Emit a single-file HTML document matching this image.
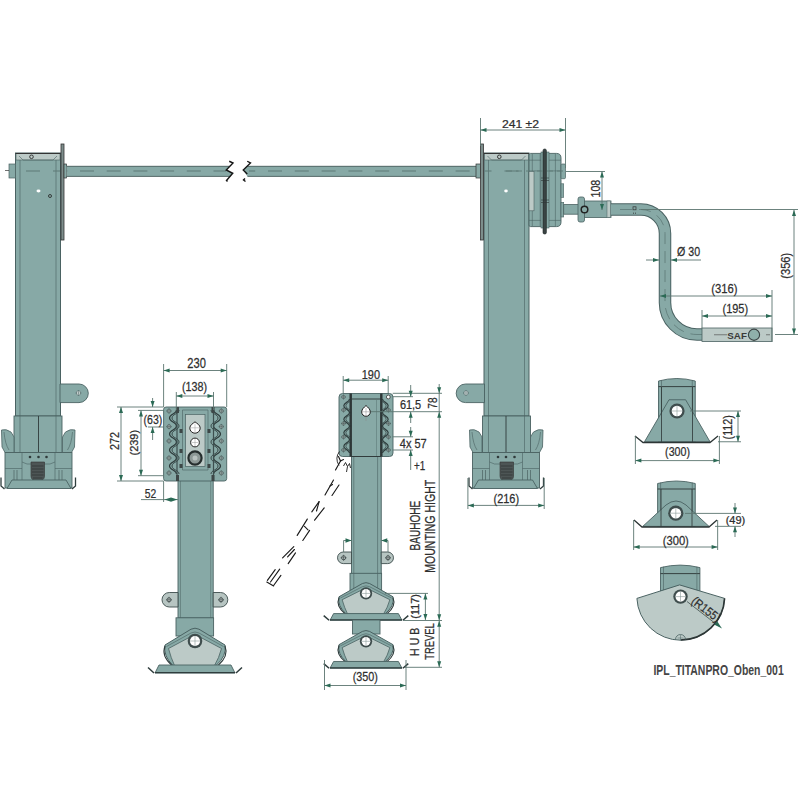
<!DOCTYPE html>
<html><head><meta charset="utf-8"><style>
html,body{margin:0;padding:0;background:#fff;width:800px;height:800px;overflow:hidden}
svg{display:block;font-family:"Liberation Sans",sans-serif}
</style></head><body>
<svg width="800" height="800" viewBox="0 0 800 800">
<rect width="800" height="800" fill="#fff"/>
<g><rect x="15.5" y="153" width="45" height="263" fill="#87a9a6" stroke="#4a6262" stroke-width="1"/><path d="M20,160V416M56,160V416" stroke="#4a6262" stroke-width="0.6"/><path d="M16,153.5H60V160H16Z" fill="#bccac7" stroke="#4a6262" stroke-width="0.6"/><path d="M15.5,153.5H60.5" stroke="#333" stroke-width="1"/><path d="M19,156 L23,160 H53 L57,156" fill="none" stroke="#4a6262" stroke-width="0.6"/><path d="M26,171H40M53,171H60" stroke="#5e7a77" stroke-width="1.1"/><path d="M60,384H79A9.3,9.3 0 0 1 79,402.6H60Z" fill="#87a9a6" stroke="#4a6262" stroke-width="0.9"/><circle cx="78.5" cy="393" r="2.2" fill="#e8eeed" stroke="#4a6262" stroke-width="0.6"/><path d="M75.5,393h6M78.5,390v6" stroke="#4a6262" stroke-width="0.5"/><rect x="14" y="416" width="48" height="36.5" fill="#87a9a6" stroke="#4a6262" stroke-width="0.9"/><path d="M20,416V452M56,416V452" stroke="#4a6262" stroke-width="0.6"/><path d="M38.5,416V452" stroke="#2f3a3a" stroke-width="0.9"/><path d="M14,437 L11,432 Q6,428.5 1.5,430 L2,447 L5,452.5 H14Z" fill="#87a9a6" stroke="#4a6262" stroke-width="0.8"/><path d="M62.5,437 L65.5,432 Q70.5,428.5 75,430 L74.5,447 L71.5,452.5 H62.5Z" fill="#87a9a6" stroke="#4a6262" stroke-width="0.8"/><path d="M4,432 Q5,444 9,450 M72.5,432 Q71.5,444 67.5,450" fill="none" stroke="#4a6262" stroke-width="0.6"/><rect x="5" y="452.5" width="67" height="35.5" fill="#87a9a6" stroke="#4a6262" stroke-width="0.9"/><path d="M5,468.5H22M55,468.5H72M22,452.5V480M55,452.5V480" stroke="#4a6262" stroke-width="0.6"/><path d="M22,462 L27,464 H50 L55,462" fill="none" stroke="#4a6262" stroke-width="0.6"/><circle cx="30" cy="457" r="1.3" fill="#2f3a3a"/><circle cx="38.5" cy="457" r="1.3" fill="#2f3a3a"/><circle cx="46.5" cy="457" r="1.3" fill="#2f3a3a"/><path d="M31,462H44.5V476Q44.5,481 37.75,481Q31,481 31,476Z" fill="#4d5555" stroke="#333" stroke-width="0.6"/><path d="M32,466H43.5M32,469H43.5M32,472H43.5M32,475H43.5M33,478H42.5" stroke="#2c3232" stroke-width="0.7"/><path d="M14,470V480M17,470V480M59,470V480M62,470V480" stroke="#4a6262" stroke-width="0.7"/><path d="M7,488.5H71L66,480H12Z" fill="#87a9a6" stroke="#4a6262" stroke-width="0.9"/><path d="M1,477.5V486L4.5,489M75.5,477.5V486L72,489" fill="none" stroke="#2f3d3d" stroke-width="1.3"/></g>
<g transform="translate(544.5,0) scale(-1,1)"><rect x="15.5" y="153" width="45" height="263" fill="#87a9a6" stroke="#4a6262" stroke-width="1"/><path d="M20,160V416M56,160V416" stroke="#4a6262" stroke-width="0.6"/><path d="M16,153.5H60V160H16Z" fill="#bccac7" stroke="#4a6262" stroke-width="0.6"/><path d="M15.5,153.5H60.5" stroke="#333" stroke-width="1"/><path d="M19,156 L23,160 H53 L57,156" fill="none" stroke="#4a6262" stroke-width="0.6"/><path d="M26,171H40M53,171H60" stroke="#5e7a77" stroke-width="1.1"/><path d="M60,384H79A9.3,9.3 0 0 1 79,402.6H60Z" fill="#87a9a6" stroke="#4a6262" stroke-width="0.9"/><circle cx="78.5" cy="393" r="2.2" fill="#e8eeed" stroke="#4a6262" stroke-width="0.6"/><path d="M75.5,393h6M78.5,390v6" stroke="#4a6262" stroke-width="0.5"/><rect x="14" y="416" width="48" height="36.5" fill="#87a9a6" stroke="#4a6262" stroke-width="0.9"/><path d="M20,416V452M56,416V452" stroke="#4a6262" stroke-width="0.6"/><path d="M38.5,416V452" stroke="#2f3a3a" stroke-width="0.9"/><path d="M14,437 L11,432 Q6,428.5 1.5,430 L2,447 L5,452.5 H14Z" fill="#87a9a6" stroke="#4a6262" stroke-width="0.8"/><path d="M62.5,437 L65.5,432 Q70.5,428.5 75,430 L74.5,447 L71.5,452.5 H62.5Z" fill="#87a9a6" stroke="#4a6262" stroke-width="0.8"/><path d="M4,432 Q5,444 9,450 M72.5,432 Q71.5,444 67.5,450" fill="none" stroke="#4a6262" stroke-width="0.6"/><rect x="5" y="452.5" width="67" height="35.5" fill="#87a9a6" stroke="#4a6262" stroke-width="0.9"/><path d="M5,468.5H22M55,468.5H72M22,452.5V480M55,452.5V480" stroke="#4a6262" stroke-width="0.6"/><path d="M22,462 L27,464 H50 L55,462" fill="none" stroke="#4a6262" stroke-width="0.6"/><circle cx="30" cy="457" r="1.3" fill="#2f3a3a"/><circle cx="38.5" cy="457" r="1.3" fill="#2f3a3a"/><circle cx="46.5" cy="457" r="1.3" fill="#2f3a3a"/><path d="M31,462H44.5V476Q44.5,481 37.75,481Q31,481 31,476Z" fill="#4d5555" stroke="#333" stroke-width="0.6"/><path d="M32,466H43.5M32,469H43.5M32,472H43.5M32,475H43.5M33,478H42.5" stroke="#2c3232" stroke-width="0.7"/><path d="M14,470V480M17,470V480M59,470V480M62,470V480" stroke="#4a6262" stroke-width="0.7"/><path d="M7,488.5H71L66,480H12Z" fill="#87a9a6" stroke="#4a6262" stroke-width="0.9"/><path d="M1,477.5V486L4.5,489M75.5,477.5V486L72,489" fill="none" stroke="#2f3d3d" stroke-width="1.3"/></g>
<circle cx="31.5" cy="156.8" r="1.8" fill="#bccac7" stroke="#2a2a2a" stroke-width="0.9"/>
<circle cx="499.3" cy="156.8" r="1.8" fill="#bccac7" stroke="#2a2a2a" stroke-width="0.9"/>
<rect x="61" y="144" width="3" height="96" fill="#7d8e8c" stroke="#333" stroke-width="0.8"/>
<rect x="64" y="164" width="2.5" height="14" fill="#87a9a6" stroke="#333" stroke-width="0.7"/>
<rect x="9" y="164" width="6.5" height="14" fill="#87a9a6" stroke="#4a6262" stroke-width="0.7"/>
<path d="M5,170.5H9" stroke="#333" stroke-width="0.7"/>
<ellipse cx="38.5" cy="191" rx="2" ry="1.4" fill="#fff"/>
<circle cx="50" cy="196" r="1.5" fill="none" stroke="#222" stroke-width="0.8"/>
<path d="M66.5,166H230.1L226.25,170L232.75,173.25L229.95,176.5H66.5Z" fill="#87a9a6"/>
<path d="M476,166H247.4L243.25,170L247.5,176.5H476Z" fill="#87a9a6"/>
<path d="M66.5,166.3H230M66.5,176.4H230M247.4,166.3H476M247.5,176.4H476" stroke="#4d5f5f" stroke-width="0.9"/>
<path d="M66.5,171H226" stroke="#5e7a77" stroke-width="1.1" stroke-dasharray="14,12.7" stroke-dashoffset="-13.5"/>
<path d="M249,171H476" stroke="#5e7a77" stroke-width="1.1" stroke-dasharray="14,12.8" stroke-dashoffset="-19"/>
<path d="M229.25,161.25L233,163L226.25,170L232.75,173.25L226.5,180.5L227.5,181.5" fill="none" stroke="#151515" stroke-width="1.4"/>
<path d="M247.25,161.25L250.5,163L243.25,170L247.25,174M245,178.5L243.5,180L245.5,181.5" fill="none" stroke="#151515" stroke-width="1.4"/>
<rect x="480.5" y="144" width="3" height="96" fill="#7d8e8c" stroke="#333" stroke-width="0.8"/>
<rect x="476" y="164" width="4.5" height="14" fill="#87a9a6" stroke="#333" stroke-width="0.7"/>
<ellipse cx="506" cy="191" rx="1.8" ry="1.4" fill="#fff"/>
<path d="M530.5,153.4H556.5Q561,153.4 561,158V222Q561,226.6 556.5,226.6H530.5Q529,226.6 529,225V155Q529,153.4 530.5,153.4Z" fill="#87a9a6" stroke="#4a6262" stroke-width="0.9"/>
<path d="M529,160.2H561M529,170.9H561M529,220.4H561M532.3,154V226M540.2,154V226M548,154V226M555.4,154V226" stroke="#4a6262" stroke-width="0.55"/>
<rect x="529" y="171.4" width="5" height="39.4" fill="#bccac7" stroke="#4a6262" stroke-width="0.6"/>
<rect x="541" y="152" width="8" height="76" fill="#87a9a6" stroke="#4a6262" stroke-width="0.6"/>
<rect x="543" y="149" width="3.4" height="85" rx="1.5" fill="#3a4444" stroke="#1f2626" stroke-width="0.6"/>
<path d="M541,178H549M541,180.5H549M541,200H549M541,202.5H549" stroke="#2d3636" stroke-width="0.6"/>
<rect x="561" y="164" width="4.5" height="14.7" rx="1.2" fill="#87a9a6" stroke="#4a6262" stroke-width="0.7"/>
<rect x="561" y="183.8" width="2.7" height="13.5" fill="#87a9a6" stroke="#4a6262" stroke-width="0.6"/>
<rect x="561" y="202.4" width="2.7" height="14.6" fill="#87a9a6" stroke="#4a6262" stroke-width="0.6"/>
<path d="M506,171H529M537,171H566" stroke="#5e7a77" stroke-width="0.9" stroke-dasharray="6,4"/>
<rect x="563.7" y="204.6" width="15" height="9.6" fill="#87a9a6" stroke="#4a6262" stroke-width="0.8"/>
<rect x="584" y="201" width="27" height="16.5" fill="#87a9a6" stroke="#4a6262" stroke-width="0.8"/>
<rect x="607" y="201" width="3.5" height="16.5" fill="#bccac7" stroke="#4a6262" stroke-width="0.5"/>
<rect x="578" y="197" width="6.5" height="25" rx="2" fill="#87a9a6" stroke="#4a6262" stroke-width="0.8"/>
<circle cx="584.5" cy="209.5" r="3.3" fill="#87a9a6" stroke="#222" stroke-width="1.5"/>
<path d="M611,209.5H641A24,24 0 0 1 665,233.5V302A32,32 0 0 0 697,334.5H702" fill="none" stroke="#4a6262" stroke-width="12.5"/>
<path d="M611,209.5H641A24,24 0 0 1 665,233.5V302A32,32 0 0 0 697,334.5H702" fill="none" stroke="#87a9a6" stroke-width="10.5"/>
<path d="M620,209.5H641A24,24 0 0 1 665,233.5V302A32,32 0 0 0 697,334.5H702" fill="none" stroke="#5e7a77" stroke-width="0.8" stroke-dasharray="12,7"/>
<rect x="633" y="206.8" width="3" height="3" fill="none" stroke="#333" stroke-width="0.7"/>
<path d="M633.5,212.5v1.5M635.5,212.5v1.5" stroke="#333" stroke-width="0.6"/>
<rect x="702" y="328" width="70" height="13.5" fill="#bccac7" stroke="#4a6262" stroke-width="0.8"/>
<path d="M714,334.75H727" stroke="#555" stroke-width="0.7"/>
<text transform="translate(727.3,338.6) scale(1.0,1)" font-size="9.8" font-weight="bold" fill="#3a3a3a">SAF</text>
<circle cx="754" cy="334.75" r="5.6" fill="#8fb0aa" stroke="#3a4444" stroke-width="1.1"/>
<path d="M766,334.75H770" stroke="#555" stroke-width="0.7"/>
<line x1="480.5" y1="118" x2="480.5" y2="146" stroke="#5b756f" stroke-width="0.9"/>
<line x1="565.5" y1="118" x2="565.5" y2="168" stroke="#5b756f" stroke-width="0.9"/>
<line x1="480.5" y1="130" x2="565.5" y2="130" stroke="#5b756f" stroke-width="0.9"/>
<polygon points="480.50,130.00 486.50,128.00 486.50,132.00" fill="#2b6a55"/>
<polygon points="565.50,130.00 559.50,128.00 559.50,132.00" fill="#2b6a55"/>
<text transform="translate(501.90,127.60) scale(1.041,1)" font-size="11.71" fill="#2e2e2e" stroke="#2e2e2e" stroke-width="0.25">241 ±2</text>
<line x1="566" y1="171.5" x2="605" y2="171.5" stroke="#5b756f" stroke-width="0.9"/>
<line x1="602" y1="171.5" x2="602" y2="210" stroke="#5b756f" stroke-width="0.9"/>
<polygon points="602.00,171.50 600.00,177.50 604.00,177.50" fill="#2b6a55"/>
<polygon points="602.00,210.00 600.00,204.00 604.00,204.00" fill="#2b6a55"/>
<text transform="translate(600.00,197.50) rotate(-90) scale(0.820,1)" font-size="13.00" fill="#2e2e2e" stroke="#2e2e2e" stroke-width="0.25">108</text>
<line x1="641" y1="209.5" x2="798" y2="209.5" stroke="#5b756f" stroke-width="0.9"/>
<line x1="775" y1="334.5" x2="798" y2="334.5" stroke="#5b756f" stroke-width="0.9"/>
<line x1="794" y1="210" x2="794" y2="334.5" stroke="#5b756f" stroke-width="0.9"/>
<polygon points="794.00,210.00 792.00,216.00 796.00,216.00" fill="#2b6a55"/>
<polygon points="794.00,334.50 792.00,328.50 796.00,328.50" fill="#2b6a55"/>
<text transform="translate(789.50,278.70) rotate(-90) scale(0.912,1)" font-size="12.14" fill="#2e2e2e" stroke="#2e2e2e" stroke-width="0.25">(356)</text>
<line x1="646" y1="260" x2="659" y2="260" stroke="#5b756f" stroke-width="0.9"/>
<polygon points="659.00,260.00 653.00,258.00 653.00,262.00" fill="#2b6a55"/>
<line x1="671" y1="260" x2="701" y2="260" stroke="#5b756f" stroke-width="0.9"/>
<polygon points="671.00,260.00 677.00,258.00 677.00,262.00" fill="#2b6a55"/>
<text transform="translate(677.00,256.40) scale(0.838,1)" font-size="12.71" fill="#2e2e2e" stroke="#2e2e2e" stroke-width="0.25">Ø 30</text>
<line x1="772" y1="290" x2="772" y2="342" stroke="#5b756f" stroke-width="0.9"/>
<line x1="660" y1="296" x2="772" y2="296" stroke="#5b756f" stroke-width="0.9"/>
<polygon points="660.00,296.00 666.00,294.00 666.00,298.00" fill="#2b6a55"/>
<polygon points="772.00,296.00 766.00,294.00 766.00,298.00" fill="#2b6a55"/>
<text transform="translate(711.25,292.50) scale(0.901,1)" font-size="12.50" fill="#2e2e2e" stroke="#2e2e2e" stroke-width="0.25">(316)</text>
<line x1="702" y1="316" x2="772" y2="316" stroke="#5b756f" stroke-width="0.9"/>
<polygon points="702.00,316.00 708.00,314.00 708.00,318.00" fill="#2b6a55"/>
<polygon points="772.00,316.00 766.00,314.00 766.00,318.00" fill="#2b6a55"/>
<line x1="702" y1="310" x2="702" y2="328" stroke="#5b756f" stroke-width="0.9"/>
<text transform="translate(722.50,312.50) scale(0.818,1)" font-size="13.43" fill="#2e2e2e" stroke="#2e2e2e" stroke-width="0.25">(195)</text>
<rect x="178" y="478" width="35.2" height="140" fill="#87a9a6" stroke="#4a6262" stroke-width="0.9"/>
<path d="M180.5,481V618M210.7,481V618" stroke="#4a6262" stroke-width="0.5"/>
<path d="M178,592.5H169.25A7.25,7.25 0 0 0 169.25,607H178Z" fill="#b7c5c2" stroke="#3d4d4d" stroke-width="0.9"/>
<circle cx="169" cy="599.8" r="2.0" fill="#dfe6e4" stroke="#2f3b3b" stroke-width="0.8"/>
<path d="M166.0,599.8h6.0M169,596.8v6.0" stroke="#2f3b3b" stroke-width="0.6"/>
<path d="M213.2,592.5H220.55A7.25,7.25 0 0 1 220.55,607H213.2Z" fill="#b7c5c2" stroke="#3d4d4d" stroke-width="0.9"/>
<circle cx="221" cy="599.8" r="2.0" fill="#dfe6e4" stroke="#2f3b3b" stroke-width="0.8"/>
<path d="M218.0,599.8h6.0M221,596.8v6.0" stroke="#2f3b3b" stroke-width="0.6"/>
<rect x="176" y="617.8" width="37.6" height="18.2" fill="#87a9a6" stroke="#4a6262" stroke-width="0.9"/>
<path d="M165.00,645.00 L191.00,629.20 Q195.00,627.20 199.00,629.20 L225.00,645.00 Q227.00,656.00 216.00,665.50 L173.00,665.50 Q163.00,656.00 165.00,645.00Z" fill="#87a9a6" stroke="#4a6262" stroke-width="1"/><path d="M168.50,648.50 L191.00,636.50 Q195.00,634.50 199.00,636.50 L221.50,648.50 Q219.00,658.00 214.50,665.50 L174.50,665.50 Q171.00,658.00 168.50,648.50Z" fill="#bccac7" stroke="#4a6262" stroke-width="0.8"/><path d="M166.50,646.50 L191.00,633.00 Q195.00,631.00 199.00,633.00 L223.50,646.50" fill="none" stroke="#4a6262" stroke-width="0.6"/><path d="M225.00,646.00 Q229.00,656.00 218.00,665.50 M165.00,646.00 Q161.00,656.00 172.00,665.50" fill="none" stroke="#2f3d3d" stroke-width="1.1"/><polygon points="159.00,665.00 231.00,665.00 235.00,673.00 155.00,673.00" fill="#87a9a6" stroke="#4a6262" stroke-width="0.9"/><path d="M155.00,672.60 H235.00" stroke="#2f3d3d" stroke-width="1.2"/><path d="M148.00,667.50 L154.00,673.00 M242.00,667.50 L236.00,673.00" stroke="#2f3d3d" stroke-width="1.5"/>
<circle cx="195" cy="641.0" r="7.3" fill="#3f4d4d"/>
<circle cx="195" cy="641.0" r="5.11" fill="#fff"/>
<path d="M189.89,641.0h10.22M195,635.89v10.22" stroke="#8a9a98" stroke-width="0.6"/>
<rect x="163.6" y="407" width="63.1" height="74" rx="2.5" fill="#87a9a6" stroke="#4a6262" stroke-width="0.9"/>
<rect x="185.5" y="414.4" width="19.5" height="52" fill="#bccac7" stroke="#4a6262" stroke-width="0.7"/>
<path d="M182.5,410V470M208,410V470M182.5,470H208M182.5,410H208" fill="none" stroke="#4a6262" stroke-width="0.6"/>
<path d="M176.50,410.00 C176.50,414.00 169.50,414.00 169.50,418.00 C169.50,422.00 176.50,422.00 176.50,426.00 C176.50,430.00 169.50,430.00 169.50,434.00 C169.50,438.00 176.50,438.00 176.50,442.00 C176.50,446.00 169.50,446.00 169.50,450.00 C169.50,454.00 176.50,454.00 176.50,458.00 C176.50,462.00 169.50,462.00 169.50,466.00 C169.50,470.00 176.50,470.00 176.50,474.00" fill="none" stroke="#2f3d3d" stroke-width="1.2"/>
<path d="M179.00,410.00 C179.00,414.00 172.00,414.00 172.00,418.00 C172.00,422.00 179.00,422.00 179.00,426.00 C179.00,430.00 172.00,430.00 172.00,434.00 C172.00,438.00 179.00,438.00 179.00,442.00 C179.00,446.00 172.00,446.00 172.00,450.00 C172.00,454.00 179.00,454.00 179.00,458.00 C179.00,462.00 172.00,462.00 172.00,466.00 C172.00,470.00 179.00,470.00 179.00,474.00" fill="none" stroke="#2f3d3d" stroke-width="0.9"/>
<path d="M213.50,410.00 C213.50,414.00 220.50,414.00 220.50,418.00 C220.50,422.00 213.50,422.00 213.50,426.00 C213.50,430.00 220.50,430.00 220.50,434.00 C220.50,438.00 213.50,438.00 213.50,442.00 C213.50,446.00 220.50,446.00 220.50,450.00 C220.50,454.00 213.50,454.00 213.50,458.00 C213.50,462.00 220.50,462.00 220.50,466.00 C220.50,470.00 213.50,470.00 213.50,474.00" fill="none" stroke="#2f3d3d" stroke-width="1.2"/>
<path d="M211.00,410.00 C211.00,414.00 218.00,414.00 218.00,418.00 C218.00,422.00 211.00,422.00 211.00,426.00 C211.00,430.00 218.00,430.00 218.00,434.00 C218.00,438.00 211.00,438.00 211.00,442.00 C211.00,446.00 218.00,446.00 218.00,450.00 C218.00,454.00 211.00,454.00 211.00,458.00 C211.00,462.00 218.00,462.00 218.00,466.00 C218.00,470.00 211.00,470.00 211.00,474.00" fill="none" stroke="#2f3d3d" stroke-width="0.9"/>
<path d="M177,407V481M213.5,407V481" stroke="#3d4f4f" stroke-width="1.2"/>
<rect x="176" y="407" width="3" height="6" fill="#3d4747"/><rect x="211.5" y="407" width="3" height="6" fill="#3d4747"/>
<rect x="176" y="475" width="3" height="6" fill="#3d4747"/><rect x="211.5" y="475" width="3" height="6" fill="#3d4747"/>
<circle cx="169" cy="411" r="1.90" fill="#b3c2bf" stroke="#3d4d4d" stroke-width="0.6"/>
<path d="M166.29999999999998,411h5.4M169,408.3v5.4" stroke="#3d4d4d" stroke-width="0.5"/>
<circle cx="221.3" cy="411" r="1.90" fill="#b3c2bf" stroke="#3d4d4d" stroke-width="0.6"/>
<path d="M218.6,411h5.4M221.3,408.3v5.4" stroke="#3d4d4d" stroke-width="0.5"/>
<circle cx="169" cy="426.6" r="1.90" fill="#b3c2bf" stroke="#3d4d4d" stroke-width="0.6"/>
<path d="M166.29999999999998,426.6h5.4M169,423.90000000000003v5.4" stroke="#3d4d4d" stroke-width="0.5"/>
<circle cx="221.3" cy="426.6" r="1.90" fill="#b3c2bf" stroke="#3d4d4d" stroke-width="0.6"/>
<path d="M218.6,426.6h5.4M221.3,423.90000000000003v5.4" stroke="#3d4d4d" stroke-width="0.5"/>
<circle cx="169" cy="441" r="1.90" fill="#b3c2bf" stroke="#3d4d4d" stroke-width="0.6"/>
<path d="M166.29999999999998,441h5.4M169,438.3v5.4" stroke="#3d4d4d" stroke-width="0.5"/>
<circle cx="221.3" cy="441" r="1.90" fill="#b3c2bf" stroke="#3d4d4d" stroke-width="0.6"/>
<path d="M218.6,441h5.4M221.3,438.3v5.4" stroke="#3d4d4d" stroke-width="0.5"/>
<circle cx="169" cy="458" r="1.90" fill="#b3c2bf" stroke="#3d4d4d" stroke-width="0.6"/>
<path d="M166.29999999999998,458h5.4M169,455.3v5.4" stroke="#3d4d4d" stroke-width="0.5"/>
<circle cx="221.3" cy="458" r="1.90" fill="#b3c2bf" stroke="#3d4d4d" stroke-width="0.6"/>
<path d="M218.6,458h5.4M221.3,455.3v5.4" stroke="#3d4d4d" stroke-width="0.5"/>
<circle cx="169" cy="473" r="1.90" fill="#b3c2bf" stroke="#3d4d4d" stroke-width="0.6"/>
<path d="M166.29999999999998,473h5.4M169,470.3v5.4" stroke="#3d4d4d" stroke-width="0.5"/>
<circle cx="221.3" cy="473" r="1.90" fill="#b3c2bf" stroke="#3d4d4d" stroke-width="0.6"/>
<path d="M218.6,473h5.4M221.3,470.3v5.4" stroke="#3d4d4d" stroke-width="0.5"/>
<rect x="179.5" y="429" width="3" height="4" fill="#3d4747"/><rect x="207.5" y="429" width="3" height="4" fill="#3d4747"/>
<rect x="179.5" y="449" width="3" height="4" fill="#3d4747"/><rect x="207.5" y="449" width="3" height="4" fill="#3d4747"/>
<rect x="179.5" y="464" width="3" height="4" fill="#3d4747"/><rect x="207.5" y="464" width="3" height="4" fill="#3d4747"/>
<path d="M195,421.8 C197,423.5 200.2,425 200.2,428 A5.2,5.2 0 0 1 189.8,428 C189.8,425 193,423.5 195,421.8Z" fill="#fff" stroke="#222" stroke-width="1"/>
<path d="M191,427.8h8M195,423.5v8.5" stroke="#999" stroke-width="0.5"/>
<circle cx="195" cy="442.5" r="4.4" fill="#fff" stroke="#222" stroke-width="1"/>
<path d="M191.5,442.5h7M195,439v7" stroke="#999" stroke-width="0.5"/>
<circle cx="195" cy="458" r="6.6" fill="#8d9896" stroke="#262e2e" stroke-width="2.2"/>
<circle cx="195" cy="458" r="2.5" fill="#b9c2c0"/>
<line x1="163.6" y1="364" x2="163.6" y2="407" stroke="#5b756f" stroke-width="0.9"/>
<line x1="226.7" y1="364" x2="226.7" y2="407" stroke="#5b756f" stroke-width="0.9"/>
<line x1="163.6" y1="370.5" x2="226.7" y2="370.5" stroke="#5b756f" stroke-width="0.9"/>
<polygon points="163.60,370.50 169.60,368.50 169.60,372.50" fill="#2b6a55"/>
<polygon points="226.70,370.50 220.70,368.50 220.70,372.50" fill="#2b6a55"/>
<text transform="translate(187.25,367.60) scale(0.804,1)" font-size="13.86" fill="#2e2e2e" stroke="#2e2e2e" stroke-width="0.25">230</text>
<line x1="176.3" y1="392" x2="176.3" y2="410" stroke="#5b756f" stroke-width="0.9"/>
<line x1="213.5" y1="392" x2="213.5" y2="410" stroke="#5b756f" stroke-width="0.9"/>
<line x1="176.3" y1="396" x2="213.5" y2="396" stroke="#5b756f" stroke-width="0.9"/>
<polygon points="176.30,396.00 182.30,394.00 182.30,398.00" fill="#2b6a55"/>
<polygon points="213.50,396.00 207.50,394.00 207.50,398.00" fill="#2b6a55"/>
<text transform="translate(182.00,391.25) scale(0.838,1)" font-size="12.86" fill="#2e2e2e" stroke="#2e2e2e" stroke-width="0.25">(138)</text>
<line x1="117" y1="407" x2="163.6" y2="407" stroke="#5b756f" stroke-width="0.9"/>
<line x1="117" y1="481" x2="163.6" y2="481" stroke="#5b756f" stroke-width="0.9"/>
<line x1="121" y1="407" x2="121" y2="481" stroke="#5b756f" stroke-width="0.9"/>
<polygon points="121.00,407.00 119.00,413.00 123.00,413.00" fill="#2b6a55"/>
<polygon points="121.00,481.00 119.00,475.00 123.00,475.00" fill="#2b6a55"/>
<text transform="translate(118.90,449.90) rotate(-90) scale(0.803,1)" font-size="13.43" fill="#2e2e2e" stroke="#2e2e2e" stroke-width="0.25">272</text>
<line x1="138" y1="410.4" x2="163.6" y2="410.4" stroke="#5b756f" stroke-width="0.9"/>
<line x1="138" y1="475.7" x2="163.6" y2="475.7" stroke="#5b756f" stroke-width="0.9"/>
<line x1="141" y1="410.4" x2="141" y2="475.7" stroke="#5b756f" stroke-width="0.9"/>
<polygon points="141.00,410.40 139.00,416.40 143.00,416.40" fill="#2b6a55"/>
<polygon points="141.00,475.70 139.00,469.70 143.00,469.70" fill="#2b6a55"/>
<text transform="translate(138.00,455.50) rotate(-90) scale(0.970,1)" font-size="11.29" fill="#2e2e2e" stroke="#2e2e2e" stroke-width="0.25">(239)</text>
<line x1="148" y1="427" x2="163.6" y2="427" stroke="#5b756f" stroke-width="0.9"/>
<line x1="152.6" y1="398" x2="152.6" y2="407" stroke="#5b756f" stroke-width="0.9"/>
<polygon points="152.60,407.00 150.60,401.00 154.60,401.00" fill="#2b6a55"/>
<line x1="152.6" y1="427" x2="152.6" y2="440" stroke="#5b756f" stroke-width="0.9"/>
<polygon points="152.60,427.00 150.60,433.00 154.60,433.00" fill="#2b6a55"/>
<text transform="translate(143.60,423.60) scale(0.791,1)" font-size="13.36" fill="#2e2e2e" stroke="#2e2e2e" stroke-width="0.25">(63)</text>
<line x1="163.6" y1="481" x2="163.6" y2="502" stroke="#5b756f" stroke-width="0.9"/>
<line x1="141" y1="499.6" x2="178" y2="499.6" stroke="#5b756f" stroke-width="0.9"/>
<polygon points="164.50,499.60 171.00,497.50 171.00,501.70" fill="#2b6a55"/>
<polygon points="177.50,499.60 171.00,497.50 171.00,501.70" fill="#2b6a55"/>
<text transform="translate(144.75,497.75) scale(0.763,1)" font-size="13.57" fill="#2e2e2e" stroke="#2e2e2e" stroke-width="0.25">52</text>
<rect x="351.5" y="456" width="29.75" height="118" fill="#87a9a6" stroke="#4a6262" stroke-width="0.9"/>
<path d="M353.8,456V573M377.6,456V573" stroke="#4a6262" stroke-width="0.6"/>
<path d="M351.5,552H343.3A5.800000000000011,5.800000000000011 0 0 0 343.3,563.6H351.5Z" fill="#b7c5c2" stroke="#3d4d4d" stroke-width="0.9"/>
<circle cx="343.6" cy="557.8" r="2.0" fill="#dfe6e4" stroke="#2f3b3b" stroke-width="0.8"/>
<path d="M340.6,557.8h6.0M343.6,554.8v6.0" stroke="#2f3b3b" stroke-width="0.6"/>
<path d="M381.25,552H387.7A5.800000000000011,5.800000000000011 0 0 1 387.7,563.6H381.25Z" fill="#b7c5c2" stroke="#3d4d4d" stroke-width="0.9"/>
<circle cx="388" cy="557.8" r="2.0" fill="#dfe6e4" stroke="#2f3b3b" stroke-width="0.8"/>
<path d="M385.0,557.8h6.0M388,554.8v6.0" stroke="#2f3b3b" stroke-width="0.6"/>
<path d="M343.6,552V540.5H351.5M388,552V540.5H381.25" fill="none" stroke="#5b756f" stroke-width="0.9"/>
<polygon points="351.50,540.50 345.50,538.30 345.50,542.70" fill="#2b6a55"/>
<polygon points="381.25,540.50 387.25,538.30 387.25,542.70" fill="#2b6a55"/>
<rect x="350" y="573.3" width="31.6" height="17" fill="#87a9a6" stroke="#4a6262" stroke-width="0.9"/>
<path d="M353.8,573.3V590M377.6,573.3V590" stroke="#4a6262" stroke-width="0.6"/>
<path d="M339.00,596.78 L362.40,583.51 Q366.00,581.83 369.60,583.51 L393.00,596.78 Q394.80,606.02 384.90,614.00 L346.20,614.00 Q337.20,606.02 339.00,596.78Z" fill="#87a9a6" stroke="#4a6262" stroke-width="1"/><path d="M342.15,599.72 L362.40,589.64 Q366.00,587.96 369.60,589.64 L389.85,599.72 Q387.60,607.70 383.55,614.00 L347.55,614.00 Q344.40,607.70 342.15,599.72Z" fill="#bccac7" stroke="#4a6262" stroke-width="0.8"/><path d="M340.35,598.04 L362.40,586.70 Q366.00,585.02 369.60,586.70 L391.65,598.04" fill="none" stroke="#4a6262" stroke-width="0.6"/><path d="M393.00,597.62 Q396.60,606.02 386.70,614.00 M339.00,597.62 Q335.40,606.02 345.30,614.00" fill="none" stroke="#2f3d3d" stroke-width="1.1"/><polygon points="333.60,613.58 398.40,613.58 402.00,620.30 330.00,620.30" fill="#87a9a6" stroke="#4a6262" stroke-width="0.9"/><path d="M330.00,619.96 H402.00" stroke="#2f3d3d" stroke-width="1.2"/><path d="M323.70,615.68 L329.10,620.30 M408.30,615.68 L402.90,620.30" stroke="#2f3d3d" stroke-width="1.5"/>
<circle cx="366" cy="593.42" r="6.18" fill="#3f4d4d"/>
<circle cx="366" cy="593.42" r="4.33" fill="#fff"/>
<path d="M361.67,593.42h8.65M366,589.09v8.65" stroke="#8a9a98" stroke-width="0.6"/>
<rect x="352.5" y="620" width="27.5" height="14" fill="#87a9a6" stroke="#4a6262" stroke-width="0.9"/>
<path d="M339.00,644.68 L362.40,631.41 Q366.00,629.73 369.60,631.41 L393.00,644.68 Q394.80,653.92 384.90,661.90 L346.20,661.90 Q337.20,653.92 339.00,644.68Z" fill="#87a9a6" stroke="#4a6262" stroke-width="1"/><path d="M342.15,647.62 L362.40,637.54 Q366.00,635.86 369.60,637.54 L389.85,647.62 Q387.60,655.60 383.55,661.90 L347.55,661.90 Q344.40,655.60 342.15,647.62Z" fill="#bccac7" stroke="#4a6262" stroke-width="0.8"/><path d="M340.35,645.94 L362.40,634.60 Q366.00,632.92 369.60,634.60 L391.65,645.94" fill="none" stroke="#4a6262" stroke-width="0.6"/><path d="M393.00,645.52 Q396.60,653.92 386.70,661.90 M339.00,645.52 Q335.40,653.92 345.30,661.90" fill="none" stroke="#2f3d3d" stroke-width="1.1"/><polygon points="333.60,661.48 398.40,661.48 402.00,668.20 330.00,668.20" fill="#87a9a6" stroke="#4a6262" stroke-width="0.9"/><path d="M330.00,667.86 H402.00" stroke="#2f3d3d" stroke-width="1.2"/><path d="M323.70,663.58 L329.10,668.20 M408.30,663.58 L402.90,668.20" stroke="#2f3d3d" stroke-width="1.5"/>
<circle cx="366" cy="641.3199999999999" r="6.18" fill="#3f4d4d"/>
<circle cx="366" cy="641.3199999999999" r="4.33" fill="#fff"/>
<path d="M361.67,641.3199999999999h8.65M366,636.99v8.65" stroke="#8a9a98" stroke-width="0.6"/>
<rect x="339" y="393.5" width="54" height="63" rx="3.5" fill="#87a9a6" stroke="#4a6262" stroke-width="0.9"/>
<rect x="351" y="393.5" width="30.5" height="63" fill="#87a9a6" stroke="#4a6262" stroke-width="0.6"/>
<path d="M352,399H381M351,456.5H381.5" stroke="#2d3636" stroke-width="0.9"/>
<path d="M350.7,393.5V456.5M381.3,393.5V456.5" stroke="#2d3636" stroke-width="2.4"/>
<path d="M376.5,400V456" stroke="#4a6262" stroke-width="0.4"/>
<path d="M349.50,399.00 C349.50,402.38 343.80,402.38 343.80,405.75 C343.80,409.12 349.50,409.12 349.50,412.50 C349.50,415.88 343.80,415.88 343.80,419.25 C343.80,422.62 349.50,422.62 349.50,426.00 C349.50,429.38 343.80,429.38 343.80,432.75 C343.80,436.12 349.50,436.12 349.50,439.50 C349.50,442.88 343.80,442.88 343.80,446.25 C343.80,449.62 349.50,449.62 349.50,453.00" fill="none" stroke="#2f3d3d" stroke-width="1.2"/>
<path d="M351.50,399.00 C351.50,402.38 345.80,402.38 345.80,405.75 C345.80,409.12 351.50,409.12 351.50,412.50 C351.50,415.88 345.80,415.88 345.80,419.25 C345.80,422.62 351.50,422.62 351.50,426.00 C351.50,429.38 345.80,429.38 345.80,432.75 C345.80,436.12 351.50,436.12 351.50,439.50 C351.50,442.88 345.80,442.88 345.80,446.25 C345.80,449.62 351.50,449.62 351.50,453.00" fill="none" stroke="#2f3d3d" stroke-width="0.7"/>
<path d="M382.50,399.00 C382.50,402.38 388.20,402.38 388.20,405.75 C388.20,409.12 382.50,409.12 382.50,412.50 C382.50,415.88 388.20,415.88 388.20,419.25 C388.20,422.62 382.50,422.62 382.50,426.00 C382.50,429.38 388.20,429.38 388.20,432.75 C388.20,436.12 382.50,436.12 382.50,439.50 C382.50,442.88 388.20,442.88 388.20,446.25 C388.20,449.62 382.50,449.62 382.50,453.00" fill="none" stroke="#2f3d3d" stroke-width="1.2"/>
<path d="M380.50,399.00 C380.50,402.38 386.20,402.38 386.20,405.75 C386.20,409.12 380.50,409.12 380.50,412.50 C380.50,415.88 386.20,415.88 386.20,419.25 C386.20,422.62 380.50,422.62 380.50,426.00 C380.50,429.38 386.20,429.38 386.20,432.75 C386.20,436.12 380.50,436.12 380.50,439.50 C380.50,442.88 386.20,442.88 386.20,446.25 C386.20,449.62 380.50,449.62 380.50,453.00" fill="none" stroke="#2f3d3d" stroke-width="0.7"/>
<circle cx="343.5" cy="397" r="1.70" fill="#b3c2bf" stroke="#3d4d4d" stroke-width="0.6"/>
<path d="M341.0,397h5.0M343.5,394.5v5.0" stroke="#3d4d4d" stroke-width="0.5"/>
<circle cx="343.5" cy="410" r="1.70" fill="#b3c2bf" stroke="#3d4d4d" stroke-width="0.6"/>
<path d="M341.0,410h5.0M343.5,407.5v5.0" stroke="#3d4d4d" stroke-width="0.5"/>
<circle cx="343.5" cy="423.5" r="1.70" fill="#b3c2bf" stroke="#3d4d4d" stroke-width="0.6"/>
<path d="M341.0,423.5h5.0M343.5,421.0v5.0" stroke="#3d4d4d" stroke-width="0.5"/>
<circle cx="343.5" cy="437" r="1.70" fill="#b3c2bf" stroke="#3d4d4d" stroke-width="0.6"/>
<path d="M341.0,437h5.0M343.5,434.5v5.0" stroke="#3d4d4d" stroke-width="0.5"/>
<circle cx="343.5" cy="450" r="1.70" fill="#b3c2bf" stroke="#3d4d4d" stroke-width="0.6"/>
<path d="M341.0,450h5.0M343.5,447.5v5.0" stroke="#3d4d4d" stroke-width="0.5"/>
<circle cx="388.5" cy="410" r="1.70" fill="#b3c2bf" stroke="#3d4d4d" stroke-width="0.6"/>
<path d="M386.0,410h5.0M388.5,407.5v5.0" stroke="#3d4d4d" stroke-width="0.5"/>
<circle cx="388.5" cy="423.5" r="1.70" fill="#b3c2bf" stroke="#3d4d4d" stroke-width="0.6"/>
<path d="M386.0,423.5h5.0M388.5,421.0v5.0" stroke="#3d4d4d" stroke-width="0.5"/>
<circle cx="388.5" cy="437" r="1.70" fill="#b3c2bf" stroke="#3d4d4d" stroke-width="0.6"/>
<path d="M386.0,437h5.0M388.5,434.5v5.0" stroke="#3d4d4d" stroke-width="0.5"/>
<circle cx="388.5" cy="450" r="1.70" fill="#b3c2bf" stroke="#3d4d4d" stroke-width="0.6"/>
<path d="M386.0,450h5.0M388.5,447.5v5.0" stroke="#3d4d4d" stroke-width="0.5"/>
<circle cx="388.3" cy="397" r="1.9" fill="#fff" stroke="#333" stroke-width="0.8"/>
<path d="M366,405.5 C368,407.5 370.3,409 370.3,412 A4.3,4.3 0 0 1 361.7,412 C361.7,409 364,407.5 366,405.5Z" fill="#fff" stroke="#222" stroke-width="1"/>
<path d="M362.5,411.8h7M366,408v7.5M366,416.5V421" stroke="#888" stroke-width="0.5"/>
<line x1="343.2" y1="376" x2="343.2" y2="393.3" stroke="#5b756f" stroke-width="0.9"/>
<line x1="388.2" y1="376" x2="388.2" y2="393.3" stroke="#5b756f" stroke-width="0.9"/>
<line x1="343.2" y1="380.2" x2="388.2" y2="380.2" stroke="#5b756f" stroke-width="0.9"/>
<polygon points="343.20,380.20 349.20,378.20 349.20,382.20" fill="#2b6a55"/>
<polygon points="388.20,380.20 382.20,378.20 382.20,382.20" fill="#2b6a55"/>
<text transform="translate(361.75,378.75) scale(0.874,1)" font-size="12.50" fill="#2e2e2e" stroke="#2e2e2e" stroke-width="0.25">190</text>
<line x1="392.7" y1="393.3" x2="442" y2="393.3" stroke="#5b756f" stroke-width="0.9"/>
<line x1="392.7" y1="396.7" x2="413" y2="396.7" stroke="#5b756f" stroke-width="0.9"/>
<line x1="371" y1="411.7" x2="442" y2="411.7" stroke="#5b756f" stroke-width="0.9"/>
<line x1="410.7" y1="385" x2="410.7" y2="396.7" stroke="#5b756f" stroke-width="0.9"/>
<polygon points="410.70,396.70 408.70,390.70 412.70,390.70" fill="#2b6a55"/>
<line x1="410.7" y1="411.7" x2="410.7" y2="423" stroke="#5b756f" stroke-width="0.9"/>
<polygon points="410.70,411.70 408.70,417.70 412.70,417.70" fill="#2b6a55"/>
<text transform="translate(399.90,409.10) scale(0.891,1)" font-size="12.29" fill="#2e2e2e" stroke="#2e2e2e" stroke-width="0.25">61,5</text>
<text transform="translate(437.00,408.75) rotate(-90) scale(0.788,1)" font-size="12.86" fill="#2e2e2e" stroke="#2e2e2e" stroke-width="0.25">78</text>
<line x1="392.7" y1="436.8" x2="413" y2="436.8" stroke="#5b756f" stroke-width="0.9"/>
<line x1="392.7" y1="450" x2="413" y2="450" stroke="#5b756f" stroke-width="0.9"/>
<line x1="410.7" y1="427" x2="410.7" y2="436.8" stroke="#5b756f" stroke-width="0.9"/>
<polygon points="410.70,436.80 408.70,430.80 412.70,430.80" fill="#2b6a55"/>
<line x1="410.7" y1="450" x2="410.7" y2="470" stroke="#5b756f" stroke-width="0.9"/>
<polygon points="410.70,450.00 408.70,456.00 412.70,456.00" fill="#2b6a55"/>
<text transform="translate(399.75,447.75) scale(0.879,1)" font-size="12.54" fill="#2e2e2e" stroke="#2e2e2e" stroke-width="0.25">4x 57</text>
<text transform="translate(414.00,470.25) scale(0.787,1)" font-size="12.54" fill="#2e2e2e" stroke="#2e2e2e" stroke-width="0.25">+1</text>
<line x1="439.2" y1="384" x2="439.2" y2="667.3" stroke="#5b756f" stroke-width="0.9"/>
<polygon points="439.20,393.30 437.20,387.30 441.20,387.30" fill="#2b6a55"/>
<polygon points="439.20,411.70 437.20,417.70 441.20,417.70" fill="#2b6a55"/>
<polygon points="439.20,620.30 437.20,614.30 441.20,614.30" fill="#2b6a55"/>
<polygon points="439.20,620.70 437.20,626.70 441.20,626.70" fill="#2b6a55"/>
<polygon points="439.20,667.30 437.20,661.30 441.20,661.30" fill="#2b6a55"/>
<text transform="translate(419.70,550.50) rotate(-90) scale(0.713,1)" font-size="14.14" fill="#2e2e2e" stroke="#2e2e2e" stroke-width="0.25">BAUHOHE</text>
<text transform="translate(435.40,572.80) rotate(-90) scale(0.754,1)" font-size="14.00" fill="#2e2e2e" stroke="#2e2e2e" stroke-width="0.25">MOUNTING HIGHT</text>
<line x1="385" y1="593.4" x2="428" y2="593.4" stroke="#5b756f" stroke-width="0.9"/>
<line x1="403" y1="620.5" x2="442" y2="620.5" stroke="#5b756f" stroke-width="0.9"/>
<line x1="405" y1="667.3" x2="442" y2="667.3" stroke="#5b756f" stroke-width="0.9"/>
<line x1="425.4" y1="593.4" x2="425.4" y2="620" stroke="#5b756f" stroke-width="0.9"/>
<polygon points="425.40,593.40 423.40,599.40 427.40,599.40" fill="#2b6a55"/>
<polygon points="425.40,620.00 423.40,614.00 427.40,614.00" fill="#2b6a55"/>
<text transform="translate(419.00,618.75) rotate(-90) scale(1.079,1)" font-size="10.14" fill="#2e2e2e" stroke="#2e2e2e" stroke-width="0.25">(117)</text>
<text transform="translate(418.60,655.90) rotate(-90) scale(0.808,1)" font-size="13.04" fill="#2e2e2e" stroke="#2e2e2e" stroke-width="0.25">H U B</text>
<text transform="translate(434.30,659.80) rotate(-90) scale(0.720,1)" font-size="13.04" fill="#2e2e2e" stroke="#2e2e2e" stroke-width="0.25">TREVEL</text>
<line x1="324.5" y1="660" x2="324.5" y2="690" stroke="#5b756f" stroke-width="0.9"/>
<line x1="406" y1="660" x2="406" y2="690" stroke="#5b756f" stroke-width="0.9"/>
<line x1="324.5" y1="685.5" x2="406" y2="685.5" stroke="#5b756f" stroke-width="0.9"/>
<polygon points="324.50,685.50 330.50,683.50 330.50,687.50" fill="#2b6a55"/>
<polygon points="406.00,685.50 400.00,683.50 400.00,687.50" fill="#2b6a55"/>
<text transform="translate(352.75,681.40) scale(0.804,1)" font-size="13.43" fill="#2e2e2e" stroke="#2e2e2e" stroke-width="0.25">(350)</text>
<line x1="467.9" y1="478" x2="467.9" y2="509" stroke="#5b756f" stroke-width="0.9"/>
<line x1="544.2" y1="478" x2="544.2" y2="509" stroke="#5b756f" stroke-width="0.9"/>
<line x1="467.9" y1="505.4" x2="544.2" y2="505.4" stroke="#5b756f" stroke-width="0.9"/>
<polygon points="467.90,505.40 473.90,503.40 473.90,507.40" fill="#2b6a55"/>
<polygon points="544.20,505.40 538.20,503.40 538.20,507.40" fill="#2b6a55"/>
<text transform="translate(493.50,502.50) scale(0.851,1)" font-size="12.86" fill="#2e2e2e" stroke="#2e2e2e" stroke-width="0.25">(216)</text>
<line x1="335.5" y1="470" x2="340.5" y2="461" stroke="#1a1a1a" stroke-width="1.15" stroke-linecap="round"/>
<line x1="340.5" y1="461" x2="338.5" y2="456.5" stroke="#1a1a1a" stroke-width="1.15" stroke-linecap="round"/>
<line x1="340.5" y1="461" x2="343.5" y2="459.5" stroke="#1a1a1a" stroke-width="1.15" stroke-linecap="round"/>
<line x1="325" y1="495" x2="333.5" y2="480" stroke="#1a1a1a" stroke-width="1.15" stroke-linecap="round"/>
<line x1="330" y1="486" x2="332.5" y2="484.5" stroke="#1a1a1a" stroke-width="1.15" stroke-linecap="round"/>
<line x1="332" y1="495.5" x2="339" y2="485" stroke="#1a1a1a" stroke-width="1.15" stroke-linecap="round"/>
<line x1="311.8" y1="511.8" x2="319.1" y2="501.7" stroke="#1a1a1a" stroke-width="1.15" stroke-linecap="round"/>
<line x1="314.6" y1="520.2" x2="324.2" y2="507.9" stroke="#1a1a1a" stroke-width="1.15" stroke-linecap="round"/>
<line x1="319.1" y1="501.7" x2="316.5" y2="511" stroke="#1a1a1a" stroke-width="1.15" stroke-linecap="round"/>
<line x1="297.2" y1="535.4" x2="307.3" y2="519.1" stroke="#1a1a1a" stroke-width="1.15" stroke-linecap="round"/>
<line x1="304.5" y1="526.4" x2="308" y2="529.8" stroke="#1a1a1a" stroke-width="1.15" stroke-linecap="round"/>
<line x1="302.8" y1="540.5" x2="309.6" y2="530.4" stroke="#1a1a1a" stroke-width="1.15" stroke-linecap="round"/>
<line x1="282.6" y1="557.9" x2="293.8" y2="546.7" stroke="#1a1a1a" stroke-width="1.15" stroke-linecap="round"/>
<line x1="287.6" y1="556.8" x2="294.4" y2="549.5" stroke="#1a1a1a" stroke-width="1.15" stroke-linecap="round"/>
<line x1="288.2" y1="563.6" x2="295.5" y2="552.9" stroke="#1a1a1a" stroke-width="1.15" stroke-linecap="round"/>
<line x1="267.4" y1="580.4" x2="275.2" y2="569.7" stroke="#1a1a1a" stroke-width="1.15" stroke-linecap="round"/>
<line x1="270.5" y1="582" x2="279.7" y2="569.2" stroke="#1a1a1a" stroke-width="1.15" stroke-linecap="round"/>
<line x1="273.6" y1="585.5" x2="280.9" y2="575.4" stroke="#1a1a1a" stroke-width="1.15" stroke-linecap="round"/>
<line x1="266.8" y1="582.1" x2="273.6" y2="586" stroke="#1a1a1a" stroke-width="1.15" stroke-linecap="round"/>
<path d="M339.5,451.5 Q334.5,458 339,465.5" fill="none" stroke="#1a1a1a" stroke-width="0.9"/>
<path d="M343.5,466 L345.5,462.5 L347.5,466.5 L349.5,463.5 L350.5,468 M347.5,466.5 L346.5,472" fill="none" stroke="#1a1a1a" stroke-width="0.9"/>
<path d="M658.5,441.75V381Q676.875,376 695.25,381V441.75Z" fill="#87a9a6" stroke="#4a6262" stroke-width="0.9"/>
<path d="M658.5,386.6H695.25" stroke="#2d3636" stroke-width="0.9"/>
<path d="M661.5,380V441.75M692.25,380V441.75" stroke="#4a6262" stroke-width="0.6"/>
<polygon points="669,399.75 685.6,399.75 710,441.75 644.5,441.75" fill="#87a9a6" stroke="#4a6262" stroke-width="0.9"/>
<path d="M661.5,387V441.75M692.5,387V441.75" stroke="#2d3636" stroke-width="0.8"/>
<path d="M635,436 L643,442.5 H710 L718,436" fill="none" stroke="#2d3636" stroke-width="1.3"/>
<circle cx="677" cy="411" r="7.6" fill="#3f4d4d"/>
<circle cx="677" cy="411" r="5.32" fill="#fff"/>
<path d="M671.68,411h10.64M677,405.68v10.64" stroke="#8a9a98" stroke-width="0.6"/>
<line x1="690" y1="411" x2="741" y2="411" stroke="#5b756f" stroke-width="0.9"/>
<line x1="718" y1="441.75" x2="741" y2="441.75" stroke="#5b756f" stroke-width="0.9"/>
<line x1="738" y1="411" x2="738" y2="441.75" stroke="#5b756f" stroke-width="0.9"/>
<polygon points="738.00,411.00 736.00,417.00 740.00,417.00" fill="#2b6a55"/>
<polygon points="738.00,441.75 736.00,435.75 740.00,435.75" fill="#2b6a55"/>
<text transform="translate(731.50,439.40) rotate(-90) scale(0.885,1)" font-size="12.14" fill="#2e2e2e" stroke="#2e2e2e" stroke-width="0.25">(112)</text>
<line x1="635.4" y1="436" x2="635.4" y2="464" stroke="#5b756f" stroke-width="0.9"/>
<line x1="719.4" y1="436" x2="719.4" y2="464" stroke="#5b756f" stroke-width="0.9"/>
<line x1="635.4" y1="460.6" x2="719.4" y2="460.6" stroke="#5b756f" stroke-width="0.9"/>
<polygon points="635.40,460.60 641.40,458.60 641.40,462.60" fill="#2b6a55"/>
<polygon points="719.40,460.60 713.40,458.60 713.40,462.60" fill="#2b6a55"/>
<text transform="translate(665.10,456.10) scale(0.841,1)" font-size="12.71" fill="#2e2e2e" stroke="#2e2e2e" stroke-width="0.25">(300)</text>
<path d="M657.6,526.4V483.5Q676.425,478.5 695.25,483.5V526.4Z" fill="#87a9a6" stroke="#4a6262" stroke-width="0.9"/>
<path d="M657.6,489H695.25" stroke="#2d3636" stroke-width="0.9"/>
<path d="M660.6,482.5V526.4M692.25,482.5V526.4" stroke="#4a6262" stroke-width="0.6"/>
<path d="M642.75,526.4 L666,505 Q676,497 686,505 L709,526.4Z" fill="#87a9a6" stroke="#4a6262" stroke-width="0.9"/>
<path d="M661,489V526.4M692,489V526.4" stroke="#2d3636" stroke-width="0.8"/>
<path d="M634,520 L642,527 H709 L717,520" fill="none" stroke="#2d3636" stroke-width="1.3"/>
<circle cx="675.8" cy="513.2" r="7.6" fill="#3f4d4d"/>
<circle cx="675.8" cy="513.2" r="5.32" fill="#fff"/>
<path d="M670.48,513.2h10.64M675.8,507.88v10.64" stroke="#8a9a98" stroke-width="0.6"/>
<line x1="685" y1="513.4" x2="741" y2="513.4" stroke="#5b756f" stroke-width="0.9"/>
<line x1="715" y1="526.35" x2="741" y2="526.35" stroke="#5b756f" stroke-width="0.9"/>
<line x1="735" y1="503" x2="735" y2="513.4" stroke="#5b756f" stroke-width="0.9"/>
<polygon points="735.00,513.40 733.00,507.40 737.00,507.40" fill="#2b6a55"/>
<line x1="735" y1="526.35" x2="735" y2="537" stroke="#5b756f" stroke-width="0.9"/>
<polygon points="735.00,526.35 733.00,532.35 737.00,532.35" fill="#2b6a55"/>
<text transform="translate(725.70,524.10) scale(1.001,1)" font-size="11.00" fill="#2e2e2e" stroke="#2e2e2e" stroke-width="0.25">(49)</text>
<line x1="633.65" y1="520" x2="633.65" y2="550" stroke="#5b756f" stroke-width="0.9"/>
<line x1="717.65" y1="520" x2="717.65" y2="550" stroke="#5b756f" stroke-width="0.9"/>
<line x1="633.65" y1="547" x2="717.65" y2="547" stroke="#5b756f" stroke-width="0.9"/>
<polygon points="633.65,547.00 639.65,545.00 639.65,549.00" fill="#2b6a55"/>
<polygon points="717.65,547.00 711.65,545.00 711.65,549.00" fill="#2b6a55"/>
<text transform="translate(662.70,544.60) scale(0.912,1)" font-size="12.29" fill="#2e2e2e" stroke="#2e2e2e" stroke-width="0.25">(300)</text>
<path d="M660.5,592V567.6Q680.2,562.6 699.9,567.6V592Z" fill="#87a9a6" stroke="#4a6262" stroke-width="0.9"/>
<path d="M660.5,573.6H699.9" stroke="#2d3636" stroke-width="0.9"/>
<path d="M663.5,566.6V592M696.9,566.6V592" stroke="#4a6262" stroke-width="0.6"/>
<path d="M636.9,598.4 L679.6,584.9 L724.6,598.4 A43.9,43.9 0 0 1 636.9,598.4Z" fill="#bccac7" stroke="#4a6262" stroke-width="1"/>
<path d="M724.6,598.4 A43.9,43.9 0 0 1 680.75,640" fill="none" stroke="#2d3636" stroke-width="1.6"/>
<path d="M675.5,639.5 A5,5 0 0 1 685.5,639.5" fill="none" stroke="#4a6262" stroke-width="0.8"/>
<path d="M680.5,635v5M677.5,638h6" stroke="#4a6262" stroke-width="0.5"/>
<circle cx="680.5" cy="596.6" r="7.2" fill="#3f4d4d"/>
<circle cx="680.5" cy="596.6" r="5.04" fill="#fff"/>
<path d="M675.46,596.6h10.08M680.5,591.56v10.08" stroke="#8a9a98" stroke-width="0.6"/>
<line x1="687" y1="601.5" x2="716" y2="624" stroke="#3d4d4d" stroke-width="0.8"/>
<polygon points="722,628.5 714.5,624.8 717.2,621.3" fill="#2b6a55"/>
<text transform="translate(690.5,602.5) rotate(37.8) scale(0.88,1)" font-size="12.3" fill="#2e2e2e" stroke="#2e2e2e" stroke-width="0.2">(R155)</text>
<text transform="translate(653.40,674.70) scale(0.730,1)" font-size="14.31" fill="#454545" stroke="#454545" stroke-width="0" font-weight="bold">IPL_TITANPRO_Oben_001</text>
</svg></body></html>
